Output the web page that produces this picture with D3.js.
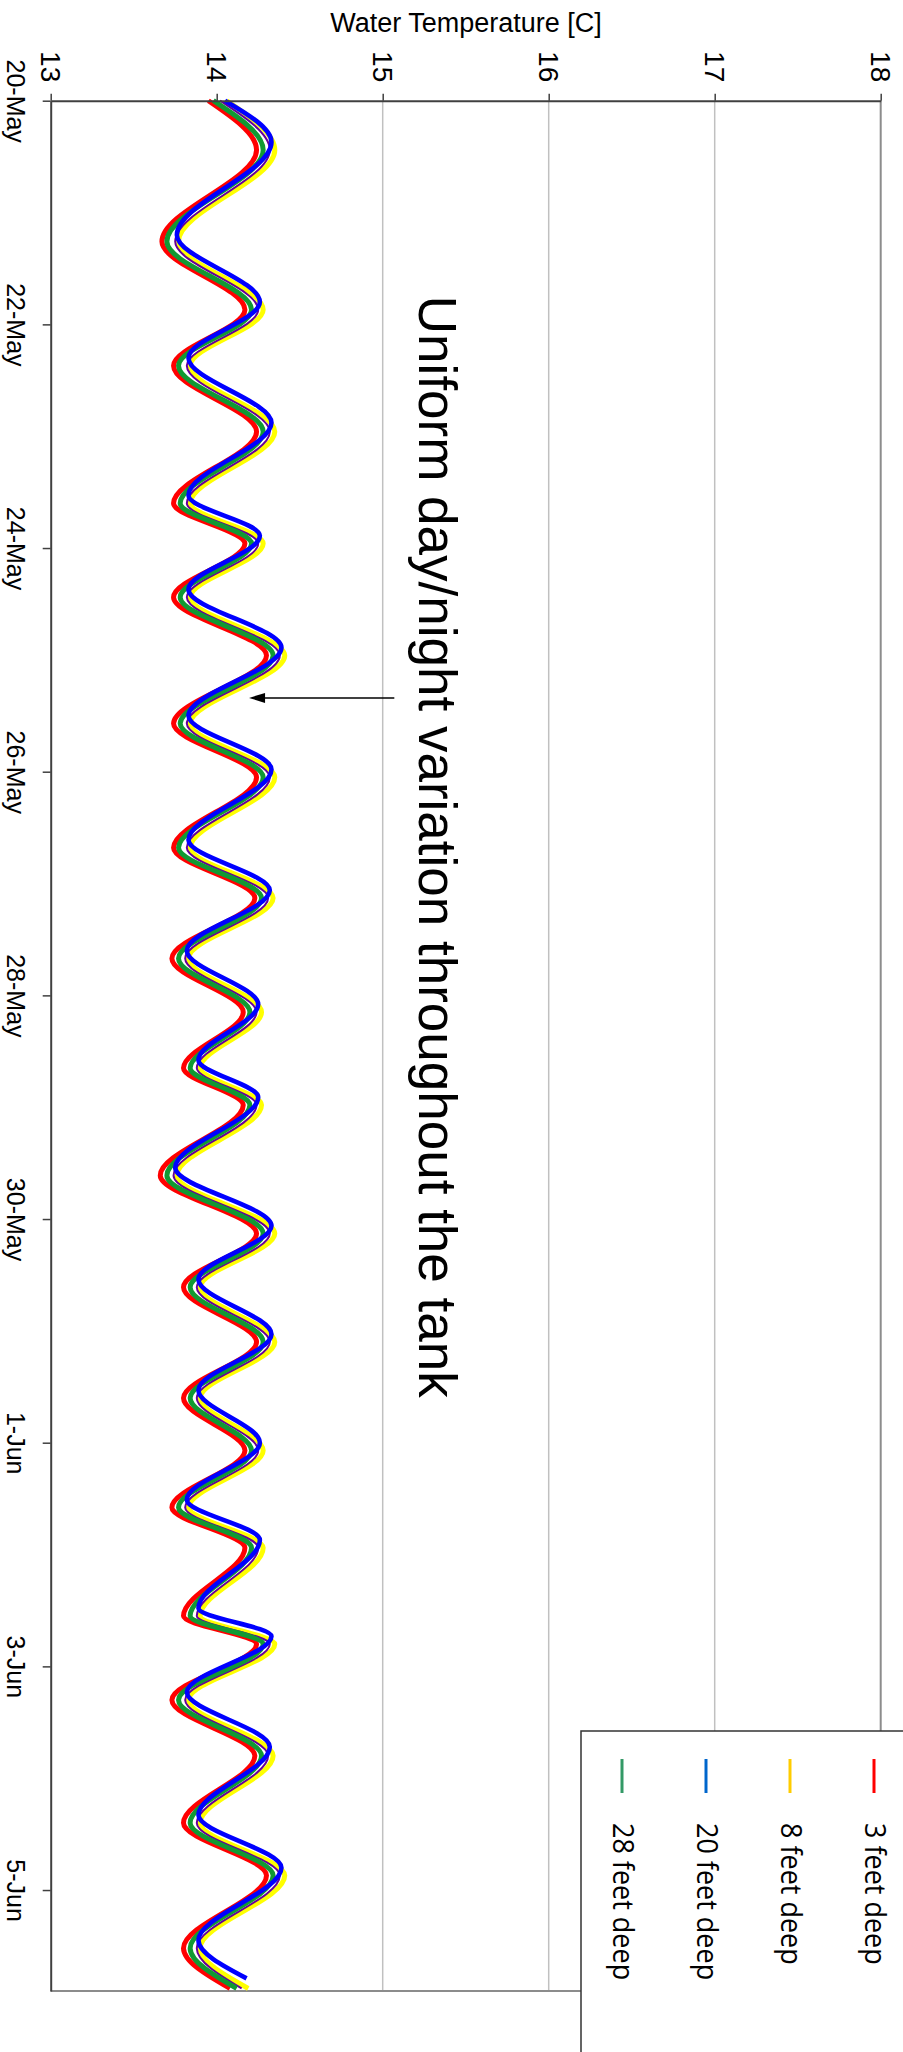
<!DOCTYPE html>
<html>
<head>
<meta charset="utf-8">
<script src="https://cdn.jsdelivr.net/npm/d3@7"></script>
<style>
  body { margin: 0; background: #fff; }
  svg { display: block; }
  text { font-family: "Liberation Sans", Arial, sans-serif; fill: #000; }
</style>
</head>
<body>
<div class="box"></div>
<script>
// valeurs (jours apres le 20-May 00:00)
const start = new Date(2013, 4, 20);

const dayOffsets = [0, 0.44, 1.26, 1.87, 2.37, 2.96, 3.60, 3.96, 4.44, 4.96, 5.57, 6.05, 6.68,
  7.13, 7.67, 8.15, 8.65, 8.98, 9.61, 10.13, 10.61, 11.10, 11.60, 12.07, 12.58, 12.94, 13.55,
  13.80, 14.30, 14.80, 15.40, 15.87, 16.52, 16.88];

// le 20 pieds est en avance sur les autres
const blueOffsets = [0, 0.37, 1.20, 1.80, 2.30, 2.88, 3.53, 3.89, 4.37, 4.89, 5.50, 5.98, 6.61,
  7.06, 7.60, 8.08, 8.58, 8.91, 9.54, 10.06, 10.54, 11.03, 11.53, 12.00, 12.51, 12.87, 13.48,
  13.73, 14.23, 14.72, 15.33, 15.80, 16.45, 16.79];

const temp3ft = [13.95, 14.24, 13.67, 14.17, 13.74, 14.24, 13.74, 14.17, 13.74, 14.30, 13.74, 14.24, 13.74,
  14.23, 13.73, 14.16, 13.80, 14.16, 13.66, 14.24, 13.80, 14.24, 13.80, 14.17, 13.73, 14.17, 13.80,
  14.24, 13.73, 14.23, 13.80, 14.30, 13.80, 14.08];

const temp8ft = [14.06, 14.35, 13.77, 14.28, 13.84, 14.35, 13.84, 14.28, 13.84, 14.41, 13.84, 14.35, 13.84,
  14.34, 13.83, 14.27, 13.90, 14.27, 13.76, 14.35, 13.90, 14.35, 13.90, 14.28, 13.83, 14.28, 13.90,
  14.35, 13.83, 14.34, 13.90, 14.41, 13.90, 14.19];

const temp20ft = [14.05, 14.33, 13.76, 14.26, 13.83, 14.33, 13.83, 14.26, 13.83, 14.39, 13.83, 14.33, 13.83,
  14.32, 13.82, 14.25, 13.89, 14.25, 13.75, 14.33, 13.89, 14.33, 13.89, 14.26, 13.82, 14.26, 13.89,
  14.33, 13.82, 14.32, 13.89, 14.39, 13.89, 14.18];

const temp28ft = [13.98, 14.28, 13.70, 14.21, 13.77, 14.28, 13.78, 14.21, 13.78, 14.34, 13.78, 14.28, 13.77,
  14.27, 13.77, 14.20, 13.84, 14.20, 13.70, 14.28, 13.84, 14.28, 13.84, 14.21, 13.77, 14.21, 13.84,
  14.28, 13.77, 14.27, 13.84, 14.34, 13.84, 14.12];

// courbe fine violette, absente de la legende
const tempOther = [14.02, 14.32, 13.75, 14.25, 13.82, 14.32, 13.82, 14.25, 13.82, 14.38, 13.82, 14.32, 13.82,
  14.31, 13.81, 14.24, 13.88, 14.24, 13.74, 14.32, 13.88, 14.32, 13.88, 14.25, 13.81, 14.25, 13.88,
  14.32, 13.81, 14.31, 13.88, 14.38, 13.88, 14.15];

const tempTicks = [13, 14, 15, 16, 17, 18];
const gridTemps = [15, 16, 17];
const dateTicks = ['2013-05-20', '2013-05-22', '2013-05-24', '2013-05-26', '2013-05-28',
  '2013-05-30', '2013-06-01', '2013-06-03', '2013-06-05'];

const legendNames = ['3 feet deep', '8 feet deep', '20 feet deep', '28 feet deep'];
const legendColors = ['#ff0000', '#ffcc00', '#0066cc', '#339966'];


//////////////////mise en place///////////////////////
const dims = {width: 903, height: 2052, left: 50.7, right: 880.7, top: 100.7, bottom: 1991};

const svg = d3.select('.box')
              .append('svg')
              .attr('width', dims.width)
              .attr('height', dims.height);

svg.append('rect').attr('width', dims.width).attr('height', dims.height).attr('fill', '#fff');

const toDate = d => new Date(start.getTime() + d * 864e5);
const parseDay = d3.timeParse('%Y-%m-%d');
const endTime = d3.timeMinute.offset(start, 16 * 1440 + 21 * 60 + 40);

const x = d3.scaleLinear().domain([13, 18]).range([dims.left, dims.right]);
const y = d3.scaleTime().domain([start, endTime]).range([dims.top, dims.bottom]);


//////////////////grille///////////////////////
svg.append('g')
   .selectAll('line')
   .data(gridTemps)
   .enter().append('line')
   .attr('x1', d => x(d)).attr('x2', d => x(d))
   .attr('y1', dims.top).attr('y2', dims.bottom)
   .attr('stroke', '#c0c0c0')
   .attr('stroke-width', 1.5);

// bords droit et bas
svg.append('line')
   .attr('x1', x(18)).attr('x2', x(18)).attr('y1', dims.top).attr('y2', dims.bottom)
   .attr('stroke', '#8c8c8c').attr('stroke-width', 2);
svg.append('line')
   .attr('x1', dims.left).attr('x2', x(18)).attr('y1', dims.bottom).attr('y2', dims.bottom)
   .attr('stroke', '#8c8c8c').attr('stroke-width', 2);


//////////////////courbes///////////////////////
const series = [
  {vals: temp8ft, days: dayOffsets, color: '#ffff00', width: 5},
  {vals: tempOther, days: dayOffsets, color: '#660099', width: 2},
  {vals: temp3ft, days: dayOffsets, color: '#ff0000', width: 5},
  {vals: temp28ft, days: dayOffsets, color: '#119933', width: 5},
  {vals: temp20ft, days: blueOffsets, color: '#0000ff', width: 4.6}
];

const line = d3.line()
               .x(d => x(d.v))
               .y(d => y(d.t))
               .curve(d3.curveMonotoneY);

svg.append('g')
   .selectAll('path')
   .data(series)
   .enter().append('path')
   .attr('d', s => line(s.vals.map((v, i) => ({v: v, t: toDate(s.days[i])}))))
   .attr('fill', 'none')
   .attr('stroke', s => s.color)
   .attr('stroke-width', s => s.width)
   .attr('stroke-linejoin', 'round');


//////////////////axes///////////////////////
const xAxis = d3.axisTop(x)
                .tickValues(tempTicks)
                .tickSize(7)
                .tickSizeOuter(0)
                .tickFormat(d3.format('d'));

svg.append('g')
   .attr('transform', `translate(0, ${dims.top})`)
   .call(xAxis)
   .attr('font-size', 28)
   .call(g => g.select('.domain').attr('stroke', '#404040').attr('stroke-width', 2))
   .call(g => g.selectAll('.tick line').attr('stroke', '#404040').attr('stroke-width', 1.5))
   .call(g => g.selectAll('.tick text')
               .attr('y', 0).attr('dy', null)
               .attr('text-anchor', 'middle')
               .attr('transform', 'translate(-10, -34) rotate(90)'));

const yAxis = d3.axisLeft(y)
                .tickValues(dateTicks.map(parseDay))
                .tickSize(8)
                .tickSizeOuter(0)
                .tickFormat(d3.timeFormat('%-d-%b'));

svg.append('g')
   .attr('transform', `translate(${dims.left}, 0)`)
   .call(yAxis)
   .attr('font-size', 25)
   .call(g => g.select('.domain').attr('stroke', '#404040').attr('stroke-width', 2))
   .call(g => g.selectAll('.tick line').attr('stroke', '#404040').attr('stroke-width', 1.5))
   .call(g => g.selectAll('.tick text')
               .attr('x', 0).attr('dy', null)
               .attr('text-anchor', 'middle')
               .attr('transform', 'translate(-44, 0) rotate(90)'));

// titre
svg.append('text')
   .attr('x', 466).attr('y', 32)
   .attr('text-anchor', 'middle')
   .attr('font-size', 27)
   .text('Water Temperature [C]');


//////////////////annotation///////////////////////
const noteTip = {v: 14.195, t: toDate(5.34)};
const noteTail = 15.07;

svg.append('line')
   .attr('x1', x(noteTail)).attr('x2', x(noteTip.v) + 10)
   .attr('y1', y(noteTip.t)).attr('y2', y(noteTip.t))
   .attr('stroke', '#000').attr('stroke-width', 1.5);

svg.append('path')
   .attr('d', `M${x(noteTip.v)},${y(noteTip.t)} l16,-5 l0,10 z`)
   .attr('fill', '#000');

svg.append('text')
   .attr('transform', `translate(${x(15.22)}, ${y(toDate(1.745))}) rotate(90)`)
   .attr('font-size', 53)
   .text('Uniform day/night variation throughout the tank');


//////////////////legendes///////////////////////
svg.append('rect')
   .attr('x', 581).attr('y', 1731)
   .attr('width', 340).attr('height', 340)
   .attr('fill', '#fff')
   .attr('stroke', '#333')
   .attr('stroke-width', 1.5);

const legend = svg.append('g')
                  .selectAll('g')
                  .data(legendNames)
                  .enter().append('g')
                  .attr('transform', (d, i) => `translate(${874 - i * 84}, 0)`);

legend.append('line')
      .attr('y1', 1759).attr('y2', 1793)
      .attr('stroke', (d, i) => legendColors[i])
      .attr('stroke-width', 3);

legend.append('text')
      .attr('transform', 'translate(-9, 1823) rotate(90) scale(0.9, 1)')
      .style('font-family', '"Open Sans", "Noto Sans", sans-serif')
      .attr('font-size', 30)
      .text(d => d);
</script>
</body>
</html>
